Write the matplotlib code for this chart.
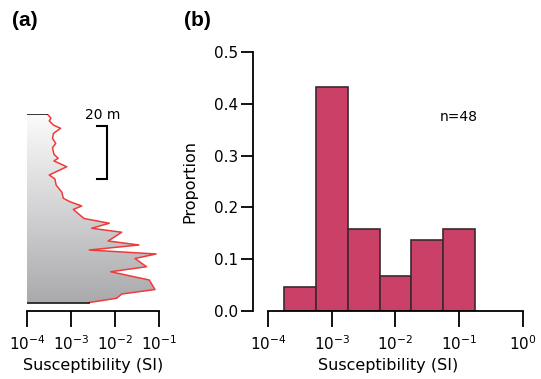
import numpy as np
import matplotlib
matplotlib.use('Agg')
import matplotlib.pyplot as plt
from matplotlib.colors import LinearSegmentedColormap

# panel (a): susceptibility profile with depth
depth_m = [0, 1.6, 2.6, 4.2, 5.4, 7.3, 9.2, 11.1, 12.7, 15.2, 16.7, 17.7,
           19.9, 23.0, 24.5, 26.8, 29.5, 31.8, 33.1, 34.7, 36.0, 39.4, 41.2,
           43.1, 44.6, 47.9, 49.4, 51.3, 52.8, 54.5, 57.6, 59.5, 62.6, 66.2,
           67.9, 69.5, 71.1]
susc = [2.9e-4, 3.5e-4, 3.2e-4, 4.0e-4, 5.8e-4, 4.0e-4, 3.8e-4, 4.5e-4,
        3.8e-4, 4.1e-4, 5.1e-4, 4.1e-4, 8.0e-4, 3.2e-4, 4.3e-4, 4.6e-4,
        6.2e-4, 6.7e-4, 9.5e-4, 1.75e-3, 1.13e-3, 1.97e-3, 7.4e-3, 2.95e-3,
        1.42e-2, 7.0e-3, 3.5e-2, 2.6e-3, 8.6e-2, 2.85e-2, 5.2e-2, 8.0e-3,
        6.0e-2, 8.1e-2, 1.42e-2, 1.09e-2, 2.6e-3]

# panel (b): histogram of log susceptibility
bin_edges_log = [-3.75, -3.25, -2.75, -2.25, -1.75, -1.25, -0.75]
proportion = [0.046, 0.432, 0.158, 0.068, 0.137, 0.158]
n_samples = 48

a_ticks = [1e-4, 1e-3, 1e-2, 1e-1]
b_ticks = [1e-4, 1e-3, 1e-2, 1e-1, 1e0]
b_yticks = [0.0, 0.1, 0.2, 0.3, 0.4, 0.5]


def tick_label(v):
    return r'$\mathregular{10^{%d}}$' % int(round(np.log10(v)))


plt.rcParams['font.family'] = ['DejaVu Sans']
W, H = 541, 379
fig = plt.figure(figsize=(W / 100, H / 100), dpi=100)


def px_axes(x0, y0, x1, y1):
    return fig.add_axes([x0 / W, 1 - y1 / H, (x1 - x0) / W, (y1 - y0) / H])


# ---------------- panel (a)
axa = px_axes(27, 114, 159, 311)
axa.set_xscale('log')
poly = axa.fill_betweenx(depth_m, a_ticks[0], susc, facecolor='none',
                         edgecolor='none')
cmap = LinearSegmentedColormap.from_list('g', ['#a6a6aa', '#d2d2d4', '#fbfbfb'])
grad = np.linspace(0, 1, 256).reshape(-1, 1)
img = axa.imshow(grad, extent=[0, 1, 0, 1], transform=axa.transAxes,
                 cmap=cmap, aspect='auto', origin='lower', zorder=1)
img.set_clip_path(poly.get_paths()[0], transform=axa.transData)
axa.plot(susc, depth_m, color='#f03a3a', lw=1.1, zorder=3)
axa.plot([a_ticks[0], susc[0]], [depth_m[0]] * 2, color='black', lw=1.1, zorder=3)
axa.plot([a_ticks[0], susc[-1]], [depth_m[-1]] * 2, color='black', lw=1.1, zorder=3)
axa.set_xlim(a_ticks[0], a_ticks[-1])
axa.set_ylim(74.3, 0)

# scale bar 20 m
bar_x = 6.6e-3
axa.plot([3.9e-3, bar_x, bar_x, 3.9e-3], [4.5, 4.5, 24.5, 24.5],
         color='black', lw=1.5, clip_on=False, solid_joinstyle='miter')
axa.text(5.2e-3, 0.2, '20 m', ha='center', va='center', fontsize=10)

for s in ['left', 'right', 'top']:
    axa.spines[s].set_visible(False)
axa.spines['bottom'].set_linewidth(1.3)
axa.set_yticks([])
axa.set_xticks(a_ticks)
axa.set_xticklabels([tick_label(v) for v in a_ticks])
axa.minorticks_off()
axa.tick_params(axis='x', direction='out', length=11.5, width=1.3,
                labelsize=11, pad=5)
axa.set_xlabel('Susceptibility (SI)', fontsize=11.5, labelpad=4)

# ---------------- panel (b)
axb = px_axes(253, 52, 523, 311)
axb.set_xscale('log')
edges = [10 ** e for e in bin_edges_log]
widths = [edges[i + 1] - edges[i] for i in range(len(proportion))]
axb.bar(edges[:-1], proportion, width=widths, align='edge',
        color='#cb4066', edgecolor='#3a2a2e', linewidth=1.2, zorder=2)
axb.set_xlim(10 ** -4.235, 1.0)
axb.set_ylim(0, 0.5)
for s in ['right', 'top']:
    axb.spines[s].set_visible(False)
axb.spines['bottom'].set_bounds(b_ticks[0], b_ticks[-1])
axb.spines['bottom'].set_linewidth(1.3)
axb.spines['left'].set_linewidth(1.3)
axb.set_xticks(b_ticks)
axb.set_xticklabels([tick_label(v) for v in b_ticks])
axb.minorticks_off()
axb.set_yticks(b_yticks)
axb.set_yticklabels(['%.1f' % v for v in b_yticks])
axb.tick_params(axis='x', direction='out', length=11.5, width=1.3,
                labelsize=11, pad=5)
axb.tick_params(axis='y', direction='out', length=8.5, width=1.3,
                labelsize=11, pad=2)
axb.set_xlabel('Susceptibility (SI)', fontsize=11.5, labelpad=4)
axb.set_ylabel('Proportion', fontsize=11.5, labelpad=12)
axb.text(0.693, 0.75, 'n=%d' % n_samples, transform=axb.transAxes,
         ha='left', va='center', fontsize=10)

fig.text(25 / W, 1 - 20 / H, '(a)', ha='center', va='center',
         fontsize=15, fontweight='bold', family='Liberation Sans')
fig.text(197 / W, 1 - 20 / H, '(b)', ha='center', va='center',
         fontsize=15, fontweight='bold', family='Liberation Sans')

fig.savefig('out.png', dpi=100)
